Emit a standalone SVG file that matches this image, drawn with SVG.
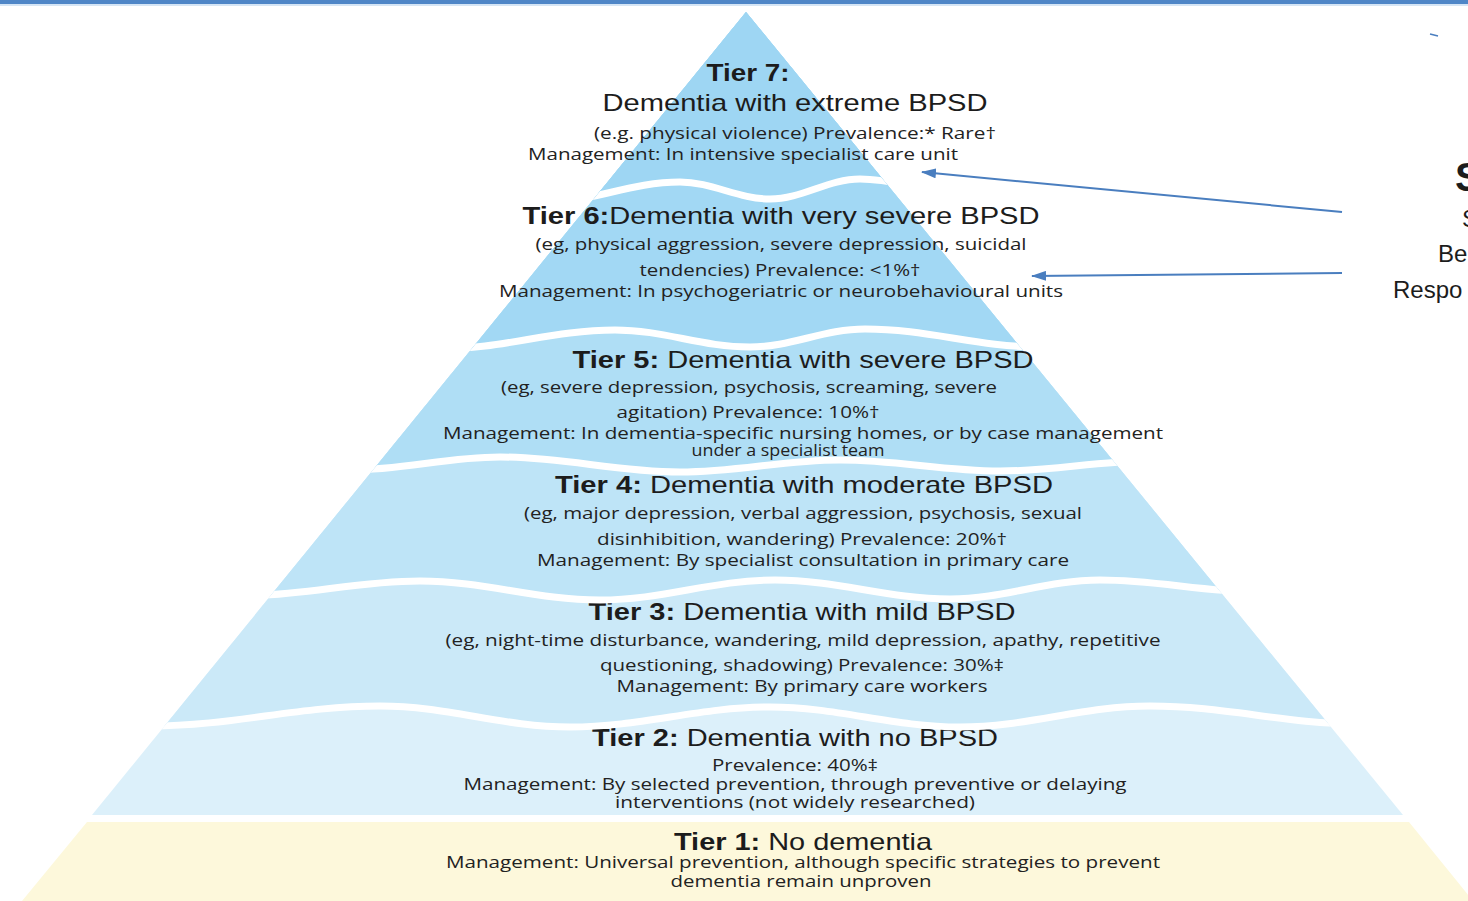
<svg xmlns="http://www.w3.org/2000/svg" width="1468" height="901" viewBox="0 0 1468 901">
  <style>
    .ttl{font-family:"Liberation Sans",Arial,sans-serif;font-size:24px;fill:#1c1c1c}
    .b{font-weight:bold}
    .sub{font-family:"Open Sans","Noto Sans",sans-serif;font-size:16px;fill:#222}
    .side{font-family:"Liberation Sans",Arial,sans-serif;font-size:24px;fill:#1c1c1c}
    .gap{fill:none;stroke:#fff;stroke-width:7}
    .conn{fill:none;stroke:#4a7ebf;stroke-width:2;marker-end:url(#ah)}
  </style>
  <defs>
    <clipPath id="pyr">
      <polygon points="746,12 92,815 1403,815"/>
    </clipPath>
    <marker id="ah" viewBox="0 0 15 10" refX="14" refY="5" markerWidth="15" markerHeight="10" markerUnits="userSpaceOnUse" orient="auto">
      <path d="M0,0 L15,5 L0,10 Z" fill="#4a7ebf"/>
    </marker>
  </defs>

  <rect width="1468" height="901" fill="#fff"/>
  <!-- header rule -->
  <rect x="0" y="0" width="1468" height="4" fill="#4f86c7"/>
  <rect x="0" y="4" width="1468" height="2" fill="#d5e5f5"/>

  <!-- Tier 1: base band -->
  <g id="tier1">
    <polygon points="87,822 1409,822 1473,901 22,901" fill="#fdf8db"/>
    <text class="ttl" x="803" y="850" text-anchor="middle" textLength="258" lengthAdjust="spacingAndGlyphs"><tspan class="b">Tier 1:</tspan> No dementia</text>
    <text class="sub" x="803" y="868" text-anchor="middle" textLength="714" lengthAdjust="spacingAndGlyphs">Management: Universal prevention, although specific strategies to prevent</text>
    <text class="sub" x="801" y="887" text-anchor="middle" textLength="261" lengthAdjust="spacingAndGlyphs">dementia remain unproven</text>
  </g>

  <!-- Tier 2 -->
  <g id="tier2">
    <polygon points="746,12 92,815 1403,815" fill="#dcf0fa"/>
    <text class="ttl" x="795" y="746" text-anchor="middle" textLength="406" lengthAdjust="spacingAndGlyphs"><tspan class="b">Tier 2:</tspan> Dementia with no BPSD</text>
    <text class="sub" x="795" y="771" text-anchor="middle" textLength="166" lengthAdjust="spacingAndGlyphs">Prevalence: 40%‡</text>
    <text class="sub" x="795" y="790" text-anchor="middle" textLength="663" lengthAdjust="spacingAndGlyphs">Management: By selected prevention, through preventive or delaying</text>
    <text class="sub" x="795" y="808" text-anchor="middle" textLength="360" lengthAdjust="spacingAndGlyphs">interventions (not widely researched)</text>
  </g>

  <!-- Tier 3 -->
  <g id="tier3">
    <g clip-path="url(#pyr)">
      <path fill="#cbe9f8" d="M0,726 L150,726 C233,726 297,706 380,706 C448,706 502,727 570,727 C642,727 698,707 770,707 C838,707 892,727 960,727 C1028,727 1082,706 1150,706 C1226,706 1284,724 1360,724 L1468,724 L1468,0 L0,0 Z"/>
      <path class="gap" d="M150,726 C233,726 297,706 380,706 C448,706 502,727 570,727 C642,727 698,707 770,707 C838,707 892,727 960,727 C1028,727 1082,706 1150,706 C1226,706 1284,724 1360,724"/>
    </g>
    <text class="ttl" x="802" y="620" text-anchor="middle" textLength="427" lengthAdjust="spacingAndGlyphs"><tspan class="b">Tier 3:</tspan> Dementia with mild BPSD</text>
    <text class="sub" x="803" y="646" text-anchor="middle" textLength="715" lengthAdjust="spacingAndGlyphs">(eg, night-time disturbance, wandering, mild depression, apathy, repetitive</text>
    <text class="sub" x="802" y="671" text-anchor="middle" textLength="404" lengthAdjust="spacingAndGlyphs">questioning, shadowing) Prevalence: 30%‡</text>
    <text class="sub" x="802" y="692" text-anchor="middle" textLength="371" lengthAdjust="spacingAndGlyphs">Management: By primary care workers</text>
  </g>

  <!-- Tier 4 -->
  <g id="tier4">
    <g clip-path="url(#pyr)">
      <path fill="#bee4f7" d="M0,596 L240,596 C305,596 355,581 420,581 C485,581 535,600 600,600 C663,600 712,580 775,580 C838,580 887,599 950,599 C1004,599 1046,580 1100,580 C1158,580 1202,592 1260,592 L1468,592 L1468,0 L0,0 Z"/>
      <path class="gap" d="M240,596 C305,596 355,581 420,581 C485,581 535,600 600,600 C663,600 712,580 775,580 C838,580 887,599 950,599 C1004,599 1046,580 1100,580 C1158,580 1202,592 1260,592"/>
    </g>
    <text class="ttl" x="804" y="493" text-anchor="middle" textLength="498" lengthAdjust="spacingAndGlyphs"><tspan class="b">Tier 4:</tspan> Dementia with moderate BPSD</text>
    <text class="sub" x="803" y="519" text-anchor="middle" textLength="558" lengthAdjust="spacingAndGlyphs">(eg, major depression, verbal aggression, psychosis, sexual</text>
    <text class="sub" x="802" y="545" text-anchor="middle" textLength="410" lengthAdjust="spacingAndGlyphs">disinhibition, wandering) Prevalence: 20%†</text>
    <text class="sub" x="803" y="566" text-anchor="middle" textLength="532" lengthAdjust="spacingAndGlyphs">Management: By specialist consultation in primary care</text>
  </g>

  <!-- Tier 5 -->
  <g id="tier5">
    <g clip-path="url(#pyr)">
      <path fill="#afdef5" d="M0,470 L350,470 C404,470 446,457 500,457 C565,457 615,472 680,472 C738,472 782,460 840,460 C898,460 942,471 1000,471 C1054,471 1096,461 1150,461 L1468,461 L1468,0 L0,0 Z"/>
      <path class="gap" d="M350,470 C404,470 446,457 500,457 C565,457 615,472 680,472 C738,472 782,460 840,460 C898,460 942,471 1000,471 C1054,471 1096,461 1150,461"/>
    </g>
    <text class="ttl" x="803" y="368" text-anchor="middle" textLength="461" lengthAdjust="spacingAndGlyphs"><tspan class="b">Tier 5:</tspan> Dementia with severe BPSD</text>
    <text class="sub" x="749" y="393" text-anchor="middle" textLength="496" lengthAdjust="spacingAndGlyphs">(eg, severe depression, psychosis, screaming, severe</text>
    <text class="sub" x="748" y="418" text-anchor="middle" textLength="263" lengthAdjust="spacingAndGlyphs">agitation) Prevalence: 10%†</text>
    <text class="sub" x="803" y="439" text-anchor="middle" textLength="720" lengthAdjust="spacingAndGlyphs">Management: In dementia-specific nursing homes, or by case management</text>
    <text class="sub" x="788" y="456" text-anchor="middle" textLength="193" lengthAdjust="spacingAndGlyphs">under a specialist team</text>
  </g>

  <!-- Tier 6 -->
  <g id="tier6">
    <g clip-path="url(#pyr)">
      <path fill="#a2d8f4" d="M0,349 L440,349 C503,349 552,330 615,330 C664,330 701,347 750,347 C791,347 824,329 865,329 C928,329 977,347 1040,347 L1468,347 L1468,0 L0,0 Z"/>
      <path class="gap" d="M440,349 C503,349 552,330 615,330 C664,330 701,347 750,347 C791,347 824,329 865,329 C928,329 977,347 1040,347"/>
    </g>
    <text class="ttl" x="781" y="224" text-anchor="middle" textLength="517" lengthAdjust="spacingAndGlyphs"><tspan class="b">Tier 6:</tspan>Dementia with very severe BPSD</text>
    <text class="sub" x="781" y="250" text-anchor="middle" textLength="491" lengthAdjust="spacingAndGlyphs">(eg, physical aggression, severe depression, suicidal</text>
    <text class="sub" x="780" y="276" text-anchor="middle" textLength="281" lengthAdjust="spacingAndGlyphs">tendencies) Prevalence: &lt;1%†</text>
    <text class="sub" x="781" y="297" text-anchor="middle" textLength="564" lengthAdjust="spacingAndGlyphs">Management: In psychogeriatric or neurobehavioural units</text>
  </g>

  <!-- Tier 7: apex -->
  <g id="tier7">
    <g clip-path="url(#pyr)">
      <path fill="#9ed6f3" d="M0,203 L540,203 C590,203 630,182 680,182 C712,182 738,199 770,199 C802,199 828,179 860,179 C896,179 924,192 960,192 L1468,192 L1468,0 L0,0 Z"/>
      <path class="gap" d="M540,203 C590,203 630,182 680,182 C712,182 738,199 770,199 C802,199 828,179 860,179 C896,179 924,192 960,192"/>
    </g>
    <text class="ttl b" x="748" y="81" text-anchor="middle" textLength="83" lengthAdjust="spacingAndGlyphs">Tier 7:</text>
    <text class="ttl" x="795" y="111" text-anchor="middle" textLength="385" lengthAdjust="spacingAndGlyphs">Dementia with extreme BPSD</text>
    <text class="sub" x="795" y="139" text-anchor="middle" textLength="402" lengthAdjust="spacingAndGlyphs">(e.g. physical violence) Prevalence:* Rare†</text>
    <text class="sub" x="743" y="160" text-anchor="middle" textLength="430" lengthAdjust="spacingAndGlyphs">Management: In intensive specialist care unit</text>
  </g>

  <!-- pointers from the side label -->
  <g id="connectors">
    <path class="conn" d="M1342,212 L922,172"/>
    <path class="conn" d="M1342,273 L1032,276"/>
  </g>

  <!-- side label, running off the right edge -->
  <g id="side-label">
    <text class="side b" x="1455" y="191" style="font-size:40px">S</text>
    <text class="side" x="1462" y="227">S</text>
    <text class="side" x="1438" y="262">Be</text>
    <text class="side" x="1393" y="298">Respo</text>
    <path d="M1430,34 L1438,36" stroke="#4a7ebf" stroke-width="1.5" fill="none"/>
  </g>
</svg>
